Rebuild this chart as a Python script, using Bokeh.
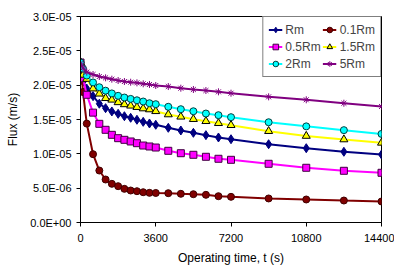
from bokeh.plotting import figure
from bokeh.models import (FixedTicker, CustomJSTickFormatter, Legend, LegendItem,
                          Range1d, ColumnDataSource)
from bokeh.embed import file_html
from bokeh.resources import INLINE

# operating time (s)
t = [0, 120, 300, 600, 900, 1200, 1500, 1800, 2100, 2400, 2700, 3000, 3300, 3600,
     4200, 4800, 5400, 6000, 6600, 7200, 9000, 10800, 12600, 14400]

# flux values in units of 1e-5 m/s
flux_Rm = [2.33, 2.05, 1.95, 1.84, 1.73, 1.665, 1.617, 1.583, 1.548, 1.525, 1.496, 1.466,
           1.442, 1.423, 1.379, 1.34, 1.306, 1.272, 1.238, 1.213, 1.14, 1.082, 1.03, 0.99]
flux_01Rm = [2.33, 1.90, 1.44, 0.995, 0.757, 0.626, 0.563, 0.529, 0.49, 0.466, 0.456, 0.441,
             0.432, 0.43, 0.427, 0.418, 0.412, 0.403, 0.383, 0.374, 0.35, 0.335, 0.32, 0.306]
flux_05Rm = [2.33, 2.10, 1.86, 1.60, 1.437, 1.35, 1.277, 1.228, 1.204, 1.18, 1.155, 1.121,
             1.107, 1.092, 1.044, 1.009, 0.986, 0.957, 0.928, 0.913, 0.855, 0.797, 0.753, 0.724]
flux_15Rm = [2.33, 2.15, 2.09, 1.95, 1.875, 1.81, 1.787, 1.75, 1.72, 1.70, 1.68, 1.66,
             1.646, 1.62, 1.573, 1.54, 1.505, 1.475, 1.446, 1.417, 1.33, 1.26, 1.209, 1.16]
flux_2Rm = [2.33, 2.24, 2.14, 2.04, 1.97, 1.92, 1.88, 1.845, 1.82, 1.80, 1.78, 1.762,
            1.737, 1.723, 1.685, 1.65, 1.62, 1.587, 1.563, 1.534, 1.46, 1.40, 1.345, 1.29]
flux_5Rm = [2.32, 2.25, 2.19, 2.155, 2.126, 2.107, 2.087, 2.068, 2.053, 2.043, 2.034, 2.02,
            2.01, 1.995, 1.98, 1.956, 1.937, 1.922, 1.903, 1.883, 1.83, 1.787, 1.737, 1.69]

labels = ["Rm", "0.1Rm", "0.5Rm", "1.5Rm", "2Rm", "5Rm"]
x_ticks = [0, 3600, 7200, 10800, 14400]
y_ticks = [0, 5e-6, 1e-5, 1.5e-5, 2e-5, 2.5e-5, 3e-5]

FONT = "Liberation Sans"

p = figure(width=394, height=269, output_backend="svg", toolbar_location=None,
           x_range=Range1d(0, 14400), y_range=Range1d(0, 3e-5),
           min_border_left=80, min_border_right=13, min_border_top=16, min_border_bottom=47)
p.xgrid.visible = False
p.ygrid.visible = False
p.outline_line_color = "black"
p.outline_line_width = 1
p.background_fill_color = "white"

series = [flux_Rm, flux_01Rm, flux_05Rm, flux_15Rm, flux_2Rm, flux_5Rm]
styles = [
    dict(color="#000080", marker="diamond", size=9, fill="#000080", outline="#000080"),
    dict(color="#800000", marker="circle", size=7, fill="#800000", outline="#400000"),
    dict(color="#FF00FF", marker="square", size=7, fill="#FF00FF", outline="#400040"),
    dict(color="#FFFF00", marker="triangle", size=8, fill="#FFFF00", outline="#000000"),
    dict(color="#00FFFF", marker="circle", size=7, fill="#00FFFF", outline="#004040"),
    dict(color="#800080", marker="asterisk", size=7, fill="#800080", outline="#800080"),
]

items = {}
for lab, vals, st in zip(labels, series, styles):
    src = ColumnDataSource(dict(x=t, y=[v * 1e-5 for v in vals]))
    ln = p.line("x", "y", source=src, line_color=st["color"], line_width=2)
    sc = p.scatter("x", "y", source=src, marker=st["marker"], size=st["size"],
                   fill_color=st["fill"], line_color=st["outline"], line_width=1)
    items[lab] = LegendItem(label=lab, renderers=[ln, sc])

# legend fills column by column: left column Rm, 0.5Rm, 2Rm; right column 0.1Rm, 1.5Rm, 5Rm
legend_order = ["Rm", "0.5Rm", "2Rm", "0.1Rm", "1.5Rm", "5Rm"]
legend = Legend(items=[items[k] for k in legend_order], location="top_right", ncols=2)
legend.border_line_color = "black"
legend.border_line_width = 1
legend.background_fill_alpha = 1
legend.margin = 0
legend.padding = 5
legend.spacing = 2
legend.glyph_width = 14
legend.glyph_height = 15
legend.label_standoff = 3
legend.label_text_font = FONT
legend.label_text_font_size = "12px"
legend.label_height = 15
p.add_layout(legend)

p.xaxis.ticker = FixedTicker(ticks=x_ticks)
p.yaxis.ticker = FixedTicker(ticks=y_ticks)
p.yaxis.formatter = CustomJSTickFormatter(code="""
    if (tick == 0) return "0.0E+00";
    var e = Math.floor(Math.log10(Math.abs(tick)) + 1e-9);
    var m = tick / Math.pow(10, e);
    var ae = Math.abs(e);
    return m.toFixed(1) + "E" + (e < 0 ? "-" : "+") + (ae < 10 ? "0" : "") + ae;
""")
for ax in (p.xaxis[0], p.yaxis[0]):
    ax.axis_line_color = "black"
    ax.major_tick_line_color = "black"
    ax.major_tick_out = 4
    ax.major_tick_in = 0
    ax.minor_tick_line_color = None
    ax.major_label_text_font = FONT
    ax.major_label_text_font_size = "11px"
    ax.major_label_text_color = "black"
    ax.axis_label_text_font = FONT
    ax.axis_label_text_font_size = "12px"
    ax.axis_label_text_font_style = "normal"
    ax.axis_label_text_color = "black"
p.xaxis.axis_label = "Operating time, t (s)"
p.yaxis.axis_label = "Flux (m/s)"
p.xaxis.major_label_standoff = 7
p.yaxis.major_label_standoff = 5
p.xaxis.axis_label_standoff = 6
p.yaxis.axis_label_standoff = 7

open("out.html", "w").write(file_html(p, INLINE))
